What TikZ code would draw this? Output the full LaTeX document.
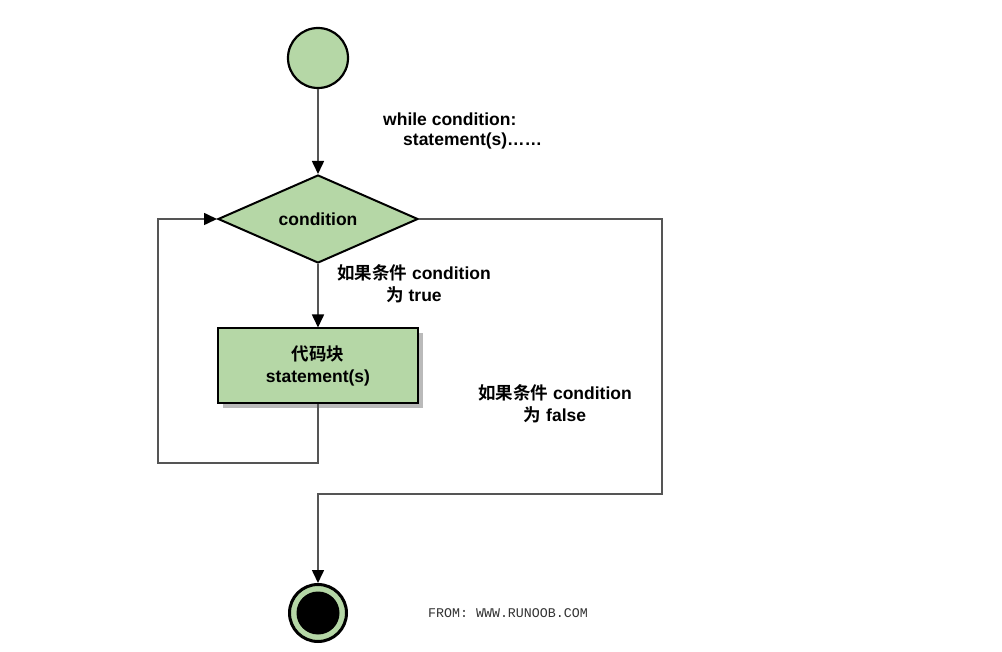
\documentclass[tikz,border=0pt]{standalone}
\usepackage{fontspec}
\setmainfont{Liberation Sans}
\newfontfamily\cjk{Noto Sans CJK SC}[BoldFont={Noto Sans CJK SC Bold}]
\newfontfamily\monof{Liberation Mono}
\usetikzlibrary{shapes.geometric,arrows.meta,shadows}
\definecolor{flowgreen}{RGB}{181,215,166}
\definecolor{linegray}{RGB}{85,85,85}
\begin{document}
\begin{tikzpicture}[x=1pt,y=-1pt,
  every node/.style={font=\fontsize{17.5}{22}\selectfont\bfseries},
  startnode/.style={circle,draw=black,line width=2.2pt,fill=flowgreen,minimum size=60pt,inner sep=0pt},
  condnode/.style={diamond,draw=black,line width=2pt,fill=flowgreen,aspect=2.3,minimum width=200pt,minimum height=88pt,inner sep=0pt},
  blocknode/.style={rectangle,draw=black,line width=2pt,fill=flowgreen,minimum width=200pt,minimum height=75pt,align=center,
    drop shadow={shadow xshift=5pt,shadow yshift=-5pt,fill=black!45,opacity=0.6}},
  endnode/.style={circle,draw=black,line width=3pt,fill=flowgreen,minimum size=57pt,inner sep=0pt},
  endcore/.style={circle,fill=black,minimum size=43pt,inner sep=0pt},
  lbl/.style={align=center,inner sep=0pt},
  conn/.style={draw=linegray,line width=1.6pt,-{Triangle[length=13pt,width=12pt,black]}},
]
\useasboundingbox (0,0) rectangle (1002,652);
\fill[white] (0,0) rectangle (1002,652);

\node[startnode] (start) at (318,58) {};
\node[condnode] (cond) at (318,219) {condition};
\node[blocknode] (blk) at (318,366) {{\cjk\bfseries 代码块}\\statement(s)};
\node[endnode] (endn) at (318,613) {};
\node[endcore] (endc) at (318,613) {};

\node[anchor=west,inner sep=0pt] (w1) at (383,119) {while condition:};
\node[anchor=west,inner sep=0pt] (w2) at (403,141) {statement(s)……};
\node[lbl] (ltrue) at (414,284) {{\cjk\bfseries 如果条件} condition\\{\cjk\bfseries 为} true};
\node[lbl] (lfalse) at (555,404) {{\cjk\bfseries 如果条件} condition\\{\cjk\bfseries 为} false};
\node[inner sep=0pt,text=black!80,font=\monof\fontsize{13.3}{15}\selectfont] (from) at (508,613) {FROM: WWW.RUNOOB.COM};

\coordinate (c1) at (158,463);
\coordinate (c2) at (662,494);

\draw[conn] (start) -- (cond);
\draw[conn] (cond) -- (blk);
\draw[conn] (blk.south) |- (c1) |- (cond.west);
\draw[conn] (cond.east) -| (c2) -| (endn.north);
\end{tikzpicture}
\end{document}
